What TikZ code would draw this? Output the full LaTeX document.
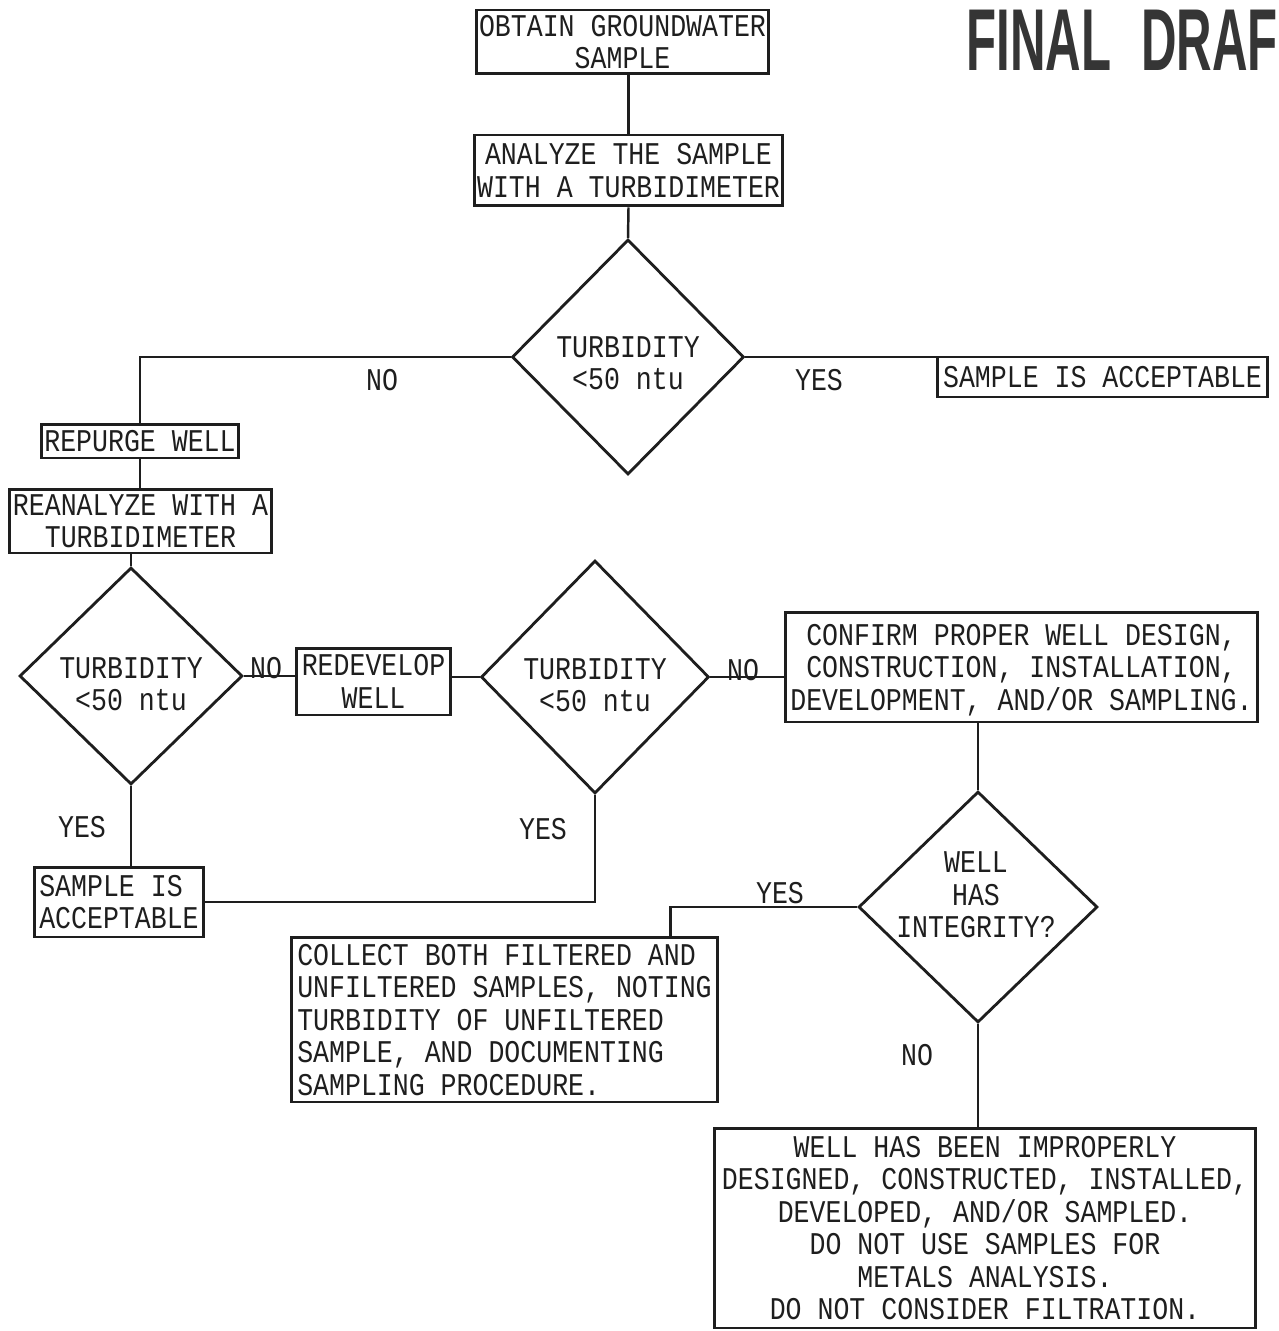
\documentclass[tikz,border=0pt]{standalone}
\usepackage{fontspec}
\usetikzlibrary{shapes.geometric,calc}
\newfontfamily\plotfont[FakeStretch=0.84]{Liberation Mono}
\newfontfamily\stampfont[FakeStretch=0.56]{Liberation Sans}
\definecolor{ink}{HTML}{1E1E1E}
\begin{document}
\begin{tikzpicture}[x=0.02cm,y=-0.02cm,
  txt/.style={font=\plotfont\fontsize{18pt}{18.5pt}\selectfont, text=ink, inner sep=0pt, align=center},
  box/.style={txt, draw=ink, line width=1.7pt, rectangle, text depth=0pt},
  dia/.style={draw=ink, line width=1.6pt, diamond, inner sep=0pt},
  link/.style={draw=ink, line width=1.4pt},
  lbl/.style={txt}]
\fill[white] (0,0) rectangle (1278,1331);
\useasboundingbox (0,0) rectangle (1278,1331);

% stamp
\node[anchor=base west, inner sep=0pt, text=ink!90,
      font=\stampfont\bfseries\fontsize{50pt}{50pt}\selectfont] (stamp) at (966,71) {FINAL\hspace{0.6cm}DRAF};

% process boxes
\node[box, minimum width=5.86cm, minimum height=1.28cm] (b1) at (622.5,42) {OBTAIN GROUNDWATER\\SAMPLE};
\node[box, minimum width=6.18cm, minimum height=1.42cm] (b2) at (628.5,170.5) {ANALYZE THE SAMPLE\\WITH A TURBIDIMETER};
\node[box, minimum width=6.62cm, minimum height=0.80cm] (acc1) at (1102.5,377) {SAMPLE IS ACCEPTABLE};
\node[box, minimum width=3.96cm, minimum height=0.68cm] (rep) at (140,441) {REPURGE WELL};
\node[box, minimum width=5.26cm, minimum height=1.28cm] (rea) at (140.5,521) {REANALYZE WITH A\\TURBIDIMETER};
\node[box, minimum width=3.10cm, minimum height=1.34cm] (redev) at (373.5,681.5) {REDEVELOP\\WELL};
\node[box, minimum width=9.46cm, minimum height=2.20cm] (conf) at (1021.5,667) {CONFIRM PROPER WELL DESIGN,\\CONSTRUCTION, INSTALLATION,\\DEVELOPMENT, AND/OR SAMPLING.};
\node[box, align=left, minimum width=3.40cm, minimum height=1.40cm] (acc2) at (119,902) {SAMPLE IS\\ACCEPTABLE};
\node[box, align=left, minimum width=8.54cm, minimum height=3.30cm] (coll) at (504.5,1019.5) {COLLECT BOTH FILTERED AND\\UNFILTERED SAMPLES, NOTING\\TURBIDITY OF UNFILTERED\\SAMPLE, AND DOCUMENTING\\SAMPLING PROCEDURE.};
\node[box, minimum width=10.84cm, minimum height=4.00cm] (bad) at (985,1228) {WELL HAS BEEN IMPROPERLY\\DESIGNED, CONSTRUCTED, INSTALLED,\\DEVELOPED, AND/OR SAMPLED.\\DO NOT USE SAMPLES FOR\\METALS ANALYSIS.\\DO NOT CONSIDER FILTRATION.};

% decisions
\node[dia, minimum width=4.64cm, minimum height=4.70cm] (d1) at (628,357) {};
\node[dia, minimum width=4.46cm, minimum height=4.34cm] (d2) at (131,676) {};
\node[dia, minimum width=4.56cm, minimum height=4.66cm] (d3) at (595,677) {};
\node[dia, minimum width=4.78cm, minimum height=4.62cm] (d4) at (978,907) {};
\node[txt] (d1t) at ($(d1.center)+(0,6)$) {TURBIDITY\\<50 ntu};
\node[txt] (d2t) at ($(d2.center)+(0,8)$) {TURBIDITY\\<50 ntu};
\node[txt] (d3t) at ($(d3.center)+(0,8)$) {TURBIDITY\\<50 ntu};
\node[txt] (d4t) at ($(d4.center)+(-2,-12)$) {WELL\\HAS\\INTEGRITY?};

% connectors
\draw[link] (b2.north |- b1.south) -- (b2.north);
\draw[link] (b2.south) -- (d1.north);
\draw[link] (d1.west) -| (rep.north);
\draw[link] (d1.east) -- (d1.east -| acc1.west);
\draw[link] (rep.south) -- (rep.south |- rea.north);
\draw[link] (d2.north |- rea.south) -- (d2.north);
\draw[link] (d2.east) -- (d2.east -| redev.west);
\draw[link] (d3.west -| redev.east) -- (d3.west);
\draw[link] (d3.east) -- (d3.east -| conf.west);
\draw[link] (d4.north |- conf.south) -- (d4.north);
\draw[link] (d4.west) -| ([xshift=-0.98cm]coll.north east);
\draw[link] (d4.south) -- (d4.south |- bad.north);
\draw[link] (d2.south) -- (d2.south |- acc2.north);
\draw[link] (d3.south) |- (acc2.east);

% branch labels
\node[lbl] (no1) at (382,380) {NO};
\node[lbl] (yes1) at (819,380) {YES};
\node[lbl] (no2) at (266,668) {NO};
\node[lbl] (no3) at (743,670) {NO};
\node[lbl] (yes2) at (82,827) {YES};
\node[lbl] (yes3) at (543,829) {YES};
\node[lbl] (yes4) at (780,893) {YES};
\node[lbl] (no4) at (917,1055) {NO};
\end{tikzpicture}
\end{document}
